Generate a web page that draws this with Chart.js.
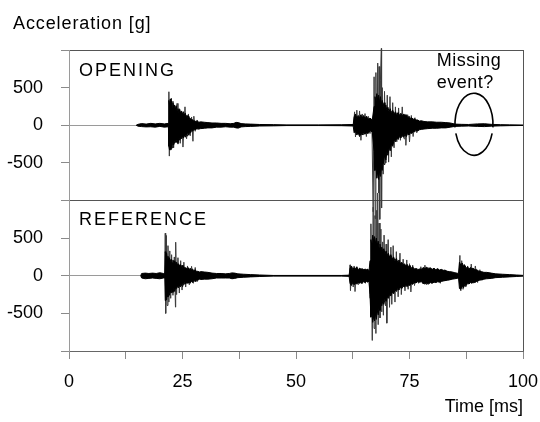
<!DOCTYPE html>
<html><head><meta charset="utf-8">
<script src="https://cdn.jsdelivr.net/npm/chart.js@4.4.1/dist/chart.umd.min.js"></script>
<style>html,body{margin:0;padding:0;background:#fff;}canvas{display:block;}</style>
</head><body>
<canvas id="c" width="540" height="422"></canvas>
<script>
// ---- texts and tick labels ----
const yTitle = 'Acceleration [g]';
const xTitle = 'Time [ms]';
const xTickLabels = [0, 25, 50, 75, 100];
const yTickLabels = [-500, 0, 500];
const panelLabels = ['OPENING', 'REFERENCE'];
const noteLines = ['Missing', 'event?'];

// ---- OPENING: dense core envelope (time ms, upper g, lower g) ----
const openT = [14.8,15.2,16,17,18,19,20,21,21.9,
 22,22.15,22.3,22.45,22.6,22.75,22.9,23.05,23.2,23.4,
 23.6,23.8,24,24.2,24.4,24.6,24.8,25,25.2,25.4,
 25.6,25.8,26,26.2,26.4,26.6,26.8,27,27.2,27.45,
 27.7,28,28.3,28.6,29,
 29.8,30.6,31.5,32.5,33.5,34.5,35.5,36.3,36.8,37.3,37.9,38.8,40,42,45,48,55,60,62.6,
 62.8,63.1,63.4,63.7,64,64.3,64.6,64.9,65.2,65.5,65.9,66.3,66.8,
 67.2,67.4,67.6,67.8,68,68.2,68.4,68.6,68.8,69,
 69.2,69.4,69.6,69.8,70,70.25,70.5,70.75,71,71.3,
 71.6,71.9,72.2,72.5,72.8,73.1,73.4,73.7,74,74.3,
 74.6,74.9,75.2,75.5,75.8,76.1,76.4,76.8,77.2,77.6,
 78.2,79,80,81,82,83,84,85,86.5,88,90,91.5,93,95,97,100];
const openHi = [0,12,22,15,25,18,25,18,25,
 330,260,350,280,320,240,300,230,270,210,
 260,190,220,170,210,160,190,150,180,130,
 160,120,130,100,120,80,90,70,75,55,
 60,45,55,40,45,
 40,35,30,30,25,25,20,25,38,35,22,18,15,10,8,4,4,6,10,
 110,150,90,130,100,140,95,130,85,120,80,95,70,
 250,380,300,420,330,400,300,380,280,330,
 250,300,230,270,200,240,180,220,170,200,
 150,180,140,170,130,160,120,150,120,140,
 100,120,90,100,80,85,70,70,55,60,
 50,45,45,40,40,35,30,15,12,10,18,20,12,8,5,3];
const openLo = [0,-12,-18,-22,-20,-25,-15,-25,-20,
 -280,-330,-240,-320,-260,-300,-220,-260,-240,-200,
 -230,-190,-230,-170,-200,-160,-180,-140,-170,-130,
 -160,-120,-140,-100,-130,-90,-100,-70,-80,-60,
 -60,-50,-50,-40,-45,
 -40,-35,-35,-25,-25,-20,-25,-25,-35,-38,-22,-18,-15,-10,-8,-4,-4,-6,-10,
 -100,-80,-130,-100,-150,-110,-130,-90,-120,-100,-110,-70,-90,
 -350,-600,-520,-700,-620,-720,-600,-680,-560,-600,
 -480,-520,-420,-460,-360,-400,-300,-340,-250,-280,
 -200,-220,-170,-190,-150,-170,-140,-160,-120,-150,
 -110,-130,-100,-110,-80,-90,-70,-75,-60,-55,
 -50,-45,-40,-40,-35,-35,-25,-15,-12,-10,-15,-18,-12,-8,-5,-3];
// ---- OPENING: individual peaks ----
const openSpkT = [21.95,22,22.1,22.25,22.4,22.55,22.7,22.9,23.05,23.3,
 23.5,23.8,24,24.3,24.5,24.8,25.1,25.55,25.9,26.3,
 26.7,27,27.3,27.5,27.8,28.2,28.6,29,
 62.7,62.9,63.1,63.4,63.7,64,64.3,64.6,64.9,65.2,
 65.5,65.9,66.3,66.7,67,67.2,67.45,67.6,67.8,68,
 68.2,68.3,68.45,68.6,68.8,68.85,69,69.2,69.5,69.8,
 70.1,70.4,70.7,71,71.3,71.6,71.9,72.2,72.6,73,
 73.4,73.8,74,74.2,74.6,75,75.4,75.8,76.2,76.6,77];
const openSpkV = [0,445,-410,300,-330,360,-260,320,-300,260,
 -230,290,-250,220,-240,180,-290,245,-180,150,
 -140,110,-213,120,-80,70,-60,0,
 0,178,-156,200,-120,190,-200,150,-130,155,
 -150,120,-110,80,-1150,644,-1240,700,-707,826,
 -900,780,-1250,600,1020,-1100,500,-650,450,-500,
 400,-490,380,-420,300,-300,244,-220,230,-200,
 244,-180,150,-267,140,-222,130,-150,100,-100,0];

// ---- REFERENCE: dense core envelope ----
const refT = [15.8,16,16.8,17.6,18.4,19.2,20,20.8,21.1,
 21.2,21.35,21.5,21.65,21.8,21.95,22.1,22.3,22.5,22.7,
 22.9,23.1,23.3,23.5,23.7,23.9,24.1,24.3,24.5,24.7,
 24.9,25.1,25.3,25.5,25.7,26,26.2,26.45,26.7,26.95,
 27.2,27.5,27.8,28.1,28.4,28.7,29,
 29.8,30.6,31.5,32.5,33.5,34.5,35.3,35.9,36.5,37.2,38.5,40,42,45,60,61.7,
 61.9,62.2,62.5,62.8,63.1,63.4,63.7,64,64.3,64.6,64.9,65.2,65.5,65.8,66.1,
 66.3,66.5,66.7,66.9,67.1,67.3,67.5,67.7,67.9,68.1,
 68.3,68.5,68.7,68.9,69.1,69.35,69.6,69.85,70.1,70.35,
 70.6,70.9,71.2,71.5,71.8,72.1,72.4,72.7,73,73.3,
 73.6,73.9,74.2,74.5,74.8,75.1,75.4,75.7,76,76.4,
 76.8,77.2,
 77.6,78,78.4,78.8,79.2,79.6,80,80.4,80.8,81.2,81.6,82,82.4,82.8,83.3,83.8,84.4,85,85.8,
 86,86.3,86.6,86.9,87.2,87.5,87.8,88.1,88.4,88.7,89,89.4,89.8,90.3,90.8,91.4,92,93,94,95.5,97,98.5,100];
const refHi = [0,30,35,30,35,30,40,30,35,
 320,260,300,230,260,200,240,190,220,180,
 210,170,200,160,180,140,160,130,150,120,
 140,110,120,95,110,90,110,85,100,75,
 90,65,80,55,60,45,55,
 50,45,35,30,30,25,30,38,35,25,20,15,10,4,4,8,
 100,130,80,110,90,120,80,100,85,95,75,90,80,85,70,
 200,480,400,540,460,520,430,500,400,460,
 370,420,340,380,320,360,290,330,270,300,
 250,280,220,250,200,230,180,210,160,180,
 140,160,130,150,120,140,100,120,90,95,
 80,90,
 85,110,95,115,90,105,85,100,80,95,75,85,70,75,60,55,50,40,30,
 180,140,170,130,140,100,120,90,110,95,100,80,80,60,55,45,45,35,25,20,15,10,5];
const refLo = [0,-30,-40,-35,-30,-35,-40,-30,-30,
 -330,-280,-320,-250,-280,-220,-260,-200,-230,-190,
 -220,-170,-210,-150,-170,-140,-160,-120,-150,-110,
 -140,-100,-120,-90,-110,-80,-100,-80,-100,-70,
 -90,-60,-80,-55,-60,-45,-50,
 -45,-45,-40,-30,-30,-30,-30,-40,-35,-25,-20,-15,-10,-4,-4,-8,
 -100,-130,-90,-120,-100,-110,-85,-100,-90,-95,-80,-90,-75,-85,-70,
 -250,-550,-480,-620,-540,-600,-500,-580,-460,-520,
 -420,-460,-380,-400,-340,-380,-310,-340,-280,-300,
 -250,-270,-220,-240,-190,-210,-170,-190,-150,-170,
 -140,-150,-130,-145,-120,-130,-100,-115,-90,-95,
 -80,-85,
 -80,-100,-110,-95,-110,-90,-100,-85,-90,-80,-85,-75,-70,-65,-60,-55,-45,-40,-30,
 -170,-180,-140,-160,-120,-130,-100,-110,-90,-100,-85,-90,-75,-60,-55,-45,-40,-35,-25,-20,-15,-10,-5];
// ---- REFERENCE: individual peaks ----
const refSpkT = [21.1,21.2,21.3,21.45,21.6,21.8,22,22.2,22.4,22.6,
 22.9,23.2,23.45,23.5,23.7,24,24.3,24.6,24.9,25.3,
 25.7,26.1,26.5,27,27.4,27.8,28.2,28.6,29,
 61.8,61.9,62,62.3,62.6,62.8,63,63.3,63.7,64.1,
 64.5,64.9,65.3,65.7,66.1,66.3,66.5,66.8,67,67.2,
 67.4,67.6,67.8,67.9,68,68.1,68.3,68.5,68.7,68.9,
 69.1,69.25,69.4,69.7,69.85,70,70.3,70.6,70.9,71.1,
 71.4,71.8,72.1,72.5,72.9,73.2,73.6,74,74.4,74.7,
 75,75.3,75.7,76.1,76.6,77,77.5,78,78.4,78.8,
 79.3,79.8,80.3,80.8,81.3,81.8,82.3,82.8,83.3,84,84.5,
 85.9,86.1,86.3,86.5,86.8,87.1,87.4,87.8,88.2,88.6,
 89,89.5,90,90.5,91,91.5];
const refSpkV = [0,565,-500,535,-395,400,-350,330,-300,280,
 -260,250,-417,446,-250,240,-230,200,-190,180,
 -150,130,-120,125,-100,110,-80,60,0,
 0,145,-195,120,-150,130,-210,110,-120,100,
 -110,90,-100,90,-80,-300,690,-860,911,-700,
 800,-767,870,-450,1100,-650,700,-560,620,-480,
 450,-525,540,-400,420,-630,480,-420,380,-380,
 400,-350,320,-280,300,-250,220,-200,210,-180,
 160,-215,140,-130,100,-100,120,-110,140,-120,
 110,-100,100,-90,90,-100,80,-70,60,-50,0,
 0,270,-200,200,-180,150,-150,130,-110,155,
 -100,130,-90,80,-60,0];

const FONT = '"Liberation Sans", Arial, Helvetica, sans-serif';
Chart.defaults.font.family = FONT;
Chart.defaults.color = '#000';

const pts = (t, v) => t.map((x, i) => ({x: x, y: v[i]}));
const band = (data, yID, fill) => ({data, yAxisID: yID, xAxisID: 'x', borderColor: '#000', backgroundColor: '#000',
  borderWidth: 1, pointRadius: 0, tension: 0, fill: fill, clip: false});
const spikes = (data, yID) => ({data, yAxisID: yID, xAxisID: 'x', borderColor: '#3a3a3a', borderWidth: 1,
  pointRadius: 0, tension: 0, fill: false, clip: false});

const yAxis = () => ({
  type: 'linear', position: 'left', stack: 'acc', stackWeight: 1,
  min: -1000, max: 1000,
  ticks: {stepSize: 500, autoSkip: false, padding: 18, color: '#000', font: {size: 18, family: FONT},
    callback: v => yTickLabels.includes(v) ? String(v) : ''},
  grid: {color: c => !c.tick ? 'rgba(0,0,0,0)' : (c.tick.value === 0 ? '#9a9a9a' : (Math.abs(c.tick.value) === 1000 ? '#555' : 'rgba(0,0,0,0)')),
    tickColor: '#8a8a8a', tickLength: 8, lineWidth: 1},
  border: {display: true, color: '#9a9a9a', width: 1},
  afterFit: s => { s.width = 69; s.paddingTop = 0; s.paddingBottom = 0; }
});

const annot = {
  id: 'annot',
  afterDatasetsDraw(chart) {
    const {ctx, chartArea} = chart;
    const x = chart.scales.x, yO = chart.scales.yOpen, yR = chart.scales.yRef;
    ctx.save();
    ctx.fillStyle = '#000';
    ctx.font = '18px ' + FONT;
    ctx.textAlign = 'left';
    ctx.textBaseline = 'alphabetic';
    ctx.letterSpacing = '0.9px';
    ctx.fillText(yTitle, 13, chartArea.top - 21);
    ctx.letterSpacing = '2px';
    ctx.fillText(panelLabels[0], chartArea.left + 10, yO.top + 26);
    ctx.fillText(panelLabels[1], chartArea.left + 10, yR.top + 24);
    ctx.letterSpacing = '0.5px';
    ctx.fillText(noteLines[0], x.getPixelForValue(81), yO.top + 16);
    ctx.fillText(noteLines[1], x.getPixelForValue(81), yO.top + 38);
    const cx = x.getPixelForValue(89.2), cy = yO.getPixelForValue(0) - 1;
    ctx.strokeStyle = '#000'; ctx.lineWidth = 1.6;
    ctx.beginPath(); ctx.ellipse(cx, cy, 19, 31, 0, 0.1, Math.PI - 0.1, true); ctx.stroke();
    ctx.beginPath(); ctx.ellipse(cx, cy, 19, 31, 0, 0.3, Math.PI - 0.3, false); ctx.stroke();
    ctx.restore();
  }
};

new Chart(document.getElementById('c'), {
  type: 'line',
  data: {datasets: [
    band(pts(openT, openHi), 'yOpen', '+1'),
    band(pts(openT, openLo), 'yOpen', false),
    spikes(pts(openSpkT, openSpkV), 'yOpen'),
    band(pts(refT, refHi), 'yRef', '+1'),
    band(pts(refT, refLo), 'yRef', false),
    spikes(pts(refSpkT, refSpkV), 'yRef')
  ]},
  options: {
    responsive: false, animation: false, devicePixelRatio: 1,
    layout: {padding: {left: 0, right: 17, top: 50, bottom: 0}},
    plugins: {legend: {display: false}, tooltip: {enabled: false}, title: {display: false}},
    scales: {
      x: {type: 'linear', min: 0, max: 100,
        ticks: {stepSize: 12.5, autoSkip: false, maxRotation: 0, padding: 12, color: '#000', font: {size: 18, family: FONT},
          callback: v => xTickLabels.includes(v) ? String(v) : ''},
        grid: {color: c => (c.tick && c.tick.value === 100) ? '#555' : 'rgba(0,0,0,0)', tickColor: '#8a8a8a', tickLength: 8},
        border: {display: true, color: '#666', width: 1},
        title: {display: true, text: xTitle, align: 'end', color: '#000', font: {size: 18, family: FONT}, padding: {top: 2, bottom: 4}},
        afterFit: s => { s.height = 71; s.paddingLeft = 0; s.paddingRight = 0; }
      },
      yRef: yAxis(),
      yOpen: yAxis()
    }
  },
  plugins: [annot]
});
</script>
</body></html>
